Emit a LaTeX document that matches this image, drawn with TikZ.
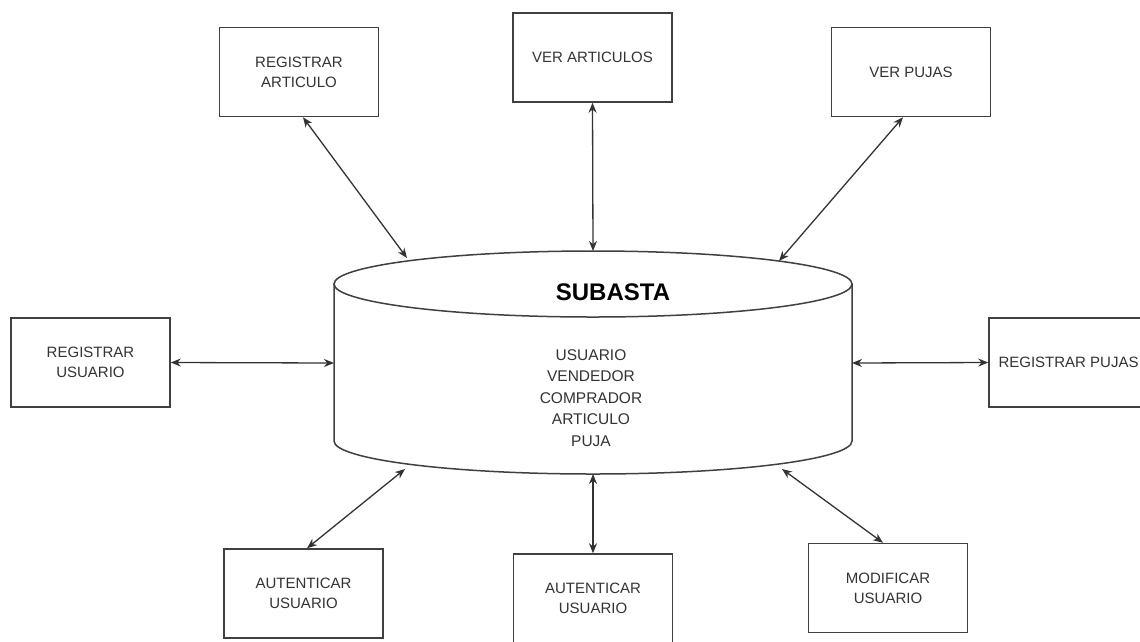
\documentclass[tikz,border=0pt]{standalone}
\usepackage{fontspec}
\setmainfont{Liberation Sans}
\usetikzlibrary{arrows.meta}
\begin{document}
\begin{tikzpicture}[x=1pt,y=-1pt,
  boxnode/.style={draw=black!75,line width=1.5pt,fill=white,minimum width=159pt,minimum height=89pt,inner sep=0pt,align=center,font=\fontsize{15}{20}\selectfont,text=black!80},
  link/.style={draw=black!80,line width=1.3pt,{Stealth[length=10pt,width=8pt]}-{Stealth[length=10pt,width=8pt]}}]
\useasboundingbox (0,0) rectangle (1140,641);
\clip (0,0) rectangle (1140,641);
% cylinder
\filldraw[draw=black!75,line width=1.5pt,fill=white] (334,284) -- (334,441) arc[start angle=180,end angle=360,x radius=259pt,y radius=33pt] -- (852,284) -- cycle;
\filldraw[draw=black!75,line width=1.5pt,fill=white] (593,284) ellipse [x radius=259pt,y radius=33pt];
\node[font=\fontsize{24}{28}\selectfont\bfseries,text=black] (title) at (613,292) {SUBASTA};
\node[align=center,font=\fontsize{15.5}{21.5}\selectfont,text=black!80] (ents) at (591,398) {USUARIO\\VENDEDOR\\COMPRADOR\\ARTICULO\\PUJA};
\coordinate (ctl) at (407,258);
\coordinate (ct) at (593,251);
\coordinate (ctr) at (779,261);
\coordinate (cl) at (334,363);
\coordinate (cr) at (852,363);
\coordinate (cbl) at (405,469);
\coordinate (cb) at (593,474);
\coordinate (cbr) at (782,469);
% boxes
\node[boxnode] (ra) at (299,72) {REGISTRAR\\ARTICULO};
\node[boxnode] (va) at (592.5,57.5) {VER ARTICULOS};
\node[boxnode] (vp) at (911,72) {VER PUJAS};
\node[boxnode] (ru) at (90.5,362.5) {REGISTRAR\\USUARIO};
\node[boxnode] (rp) at (1068.5,362.5) {REGISTRAR PUJAS};
\node[boxnode] (au1) at (303.5,593.5) {AUTENTICAR\\USUARIO};
\node[boxnode] (au2) at (593,598.5) {AUTENTICAR\\USUARIO};
\node[boxnode] (mu) at (888,588) {MODIFICAR\\USUARIO};
% connectors
\draw[link] ([xshift=4pt]ra.south) -- (ctl);
\draw[link] (va.south) -- (ct);
\draw[link] ([xshift=-8pt]vp.south) -- (ctr);
\draw[link] (ru.east) -- (cl);
\draw[link] (rp.west) -- (cr);
\draw[link] ([xshift=3.5pt]au1.north) -- (cbl);
\draw[link] (au2.north) -- (cb);
\draw[link] ([xshift=-5pt]mu.north) -- (cbr);
\end{tikzpicture}
\end{document}
